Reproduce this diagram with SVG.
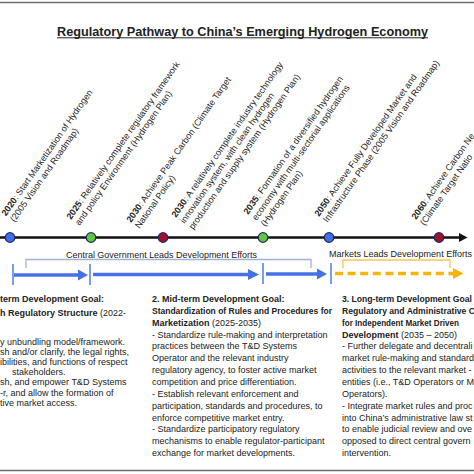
<svg xmlns="http://www.w3.org/2000/svg" width="474" height="474" viewBox="0 0 474 474">
<defs>
<style>
text{font-family:"Liberation Sans",Arial,sans-serif;fill:#222}
.lbl{font-size:9px}
.body{font-size:9px}
.b{font-weight:bold}
.border{stroke:#6b6b6b;stroke-width:1.5}
.dot{stroke:#1f2a66;stroke-width:1.2}
.blue{fill:#3f6fe6}
.green{fill:#62c93a}
.red{fill:#a0102c}
.shaft{stroke:#4472e6;stroke-width:3.5}
.head{fill:#4472e6}
.tick{stroke:#4472e6;stroke-width:1.4}
.brk{fill:none;stroke:#9fb2de;stroke-width:1.3}
.ybrk{fill:none;stroke:#f3c94a;stroke-width:1.3}
.ydash{stroke:#f5b50a;stroke-width:3.5;stroke-dasharray:8 4.6}
</style>
</defs>
<rect width="474" height="474" fill="#fff"/>
<line class="border" x1="0" y1="2.5" x2="474" y2="2.5"/>
<line class="border" x1="0" y1="470.5" x2="474" y2="470.5"/>

<g id="title">
<text x="57" y="35.5" class="b" font-size="13" textLength="371" lengthAdjust="spacingAndGlyphs">Regulatory Pathway to China’s Emerging Hydrogen Economy</text>
<line x1="57" y1="37.8" x2="428" y2="37.8" stroke="#222" stroke-width="1"/>
</g>

<g id="connectors">
<line x1="0" y1="237.5" x2="460" y2="237.5" stroke="#111" stroke-width="2.5"/>
<polygon points="459,233 467.5,237.5 459,242" fill="#111"/>
<path class="brk" d="M26,268 V259.5 H311 V268"/>
<path class="ybrk" d="M343,268 V260 H450 V268"/>
<line class="tick" x1="13" y1="264" x2="13" y2="285"/>
<line class="tick" x1="90" y1="264" x2="90" y2="285"/>
<line class="tick" x1="263" y1="263" x2="263" y2="284"/>
<line class="tick" x1="331" y1="263" x2="331" y2="284"/>
<line class="shaft" x1="14" y1="275" x2="80" y2="275"/>
<polygon class="head" points="78,269.5 88,275 78,280.5"/>
<line class="shaft" x1="93" y1="274.5" x2="250" y2="274.5"/>
<polygon class="head" points="248,269 259,274.5 248,280"/>
<line class="shaft" x1="266" y1="274" x2="319" y2="274"/>
<polygon class="head" points="317,268.5 327,274 317,279.5"/>
<line class="ydash" x1="335" y1="273.5" x2="453" y2="273.5"/>
<polygon points="453,268 463.5,273.5 453,279" fill="#f5b50a"/>
</g>

<g id="m2020"><circle class="dot blue" cx="10" cy="237.5" r="4.8"/>
<text class="lbl" transform="translate(6,216.5) rotate(-55)"><tspan x="0" y="0"><tspan class="b">2020</tspan>: Start Marketization of Hydrogen</tspan><tspan x="0" y="10.5">(2005 Vision and Roadmap)</tspan></text></g>
<g id="m2025"><circle class="dot green" cx="91" cy="237.5" r="4.8"/>
<text class="lbl" transform="translate(71,220) rotate(-55)"><tspan x="0" y="0"><tspan class="b">2025</tspan>: Relatively complete regulatory framework</tspan><tspan x="0" y="10.5">and policy Environment (Hydrogen Plan)</tspan></text></g>
<g id="m2030a"><circle class="dot red" cx="163" cy="237.5" r="4.8"/>
<text class="lbl" transform="translate(131,223) rotate(-55)"><tspan x="0" y="0"><tspan class="b">2030</tspan>: Achieve Peak Carbon (Climate Target</tspan><tspan x="0" y="10.5">National Policy)</tspan></text></g>
<g id="m2030b">
<text class="lbl" transform="translate(176,218) rotate(-55)"><tspan x="0" y="0"><tspan class="b">2030</tspan>: A relatively complete industry technology</tspan><tspan x="0" y="10.5">innovation system, with clean hydrogen</tspan><tspan x="0" y="21">production and supply system (Hydrogen Plan)</tspan></text></g>
<g id="m2035"><circle class="dot green" cx="263" cy="237.5" r="4.8"/>
<text class="lbl" transform="translate(248,215) rotate(-55)"><tspan x="0" y="0"><tspan class="b">2035</tspan>: Formation of a diversified hydrogen</tspan><tspan x="0" y="10.5">economy with multi-sectorial applications</tspan><tspan x="0" y="21">(Hydrogen Plan)</tspan></text></g>
<g id="m2050"><circle class="dot blue" cx="329" cy="237.5" r="4.8"/>
<text class="lbl" transform="translate(319,217) rotate(-55)"><tspan x="0" y="0"><tspan class="b">2050</tspan>: Achieve Fully Developed Market and</tspan><tspan x="0" y="10.5">Infrastructure Phase (2005 Vision and Roadmap)</tspan></text></g>
<g id="m2060"><circle class="dot red" cx="439" cy="237.5" r="4.8"/>
<text class="lbl" transform="translate(416,220) rotate(-55)"><tspan x="0" y="0"><tspan class="b">2060</tspan>: Achieve Carbon Ne</tspan><tspan x="0" y="10.5">(Climate Target Natio</tspan></text></g>

<g id="central"><text class="body" x="66" y="257.5" textLength="191" lengthAdjust="spacingAndGlyphs">Central Government Leads Development Efforts</text></g>
<g id="markets"><text class="body" x="329" y="257" textLength="143" lengthAdjust="spacingAndGlyphs">Markets Leads Development Efforts</text></g>

<g id="goal1"><text class="body">
<tspan x="0" y="302" class="b">term Development Goal:</tspan>
<tspan x="0" y="316"><tspan class="b">h Regulatory Structure</tspan> (2022-</tspan>
<tspan x="0" y="344.5">y unbundling model/framework.</tspan>
<tspan x="0" y="354.7">sh and/or clarify, the legal rights,</tspan>
<tspan x="0" y="364.9">ibilities, and functions of respect</tspan>
<tspan x="12" y="375.1">stakeholders.</tspan>
<tspan x="0" y="385.3">sh, and empower T&amp;D Systems</tspan>
<tspan x="0" y="395.5">-r, and allow the formation of</tspan>
<tspan x="0" y="405.7">tive market access.</tspan>
</text></g>

<g id="goal2"><text class="body">
<tspan x="152" y="302" class="b">2. Mid-term Development Goal:</tspan>
<tspan x="152" y="313.85" class="b" textLength="180" lengthAdjust="spacingAndGlyphs">Standardization of Rules and Procedures for</tspan>
<tspan x="152" y="325.7"><tspan class="b">Marketization</tspan> (2025-2035)</tspan>
<tspan x="152" y="337.55">- Standardize rule-making and interpretation</tspan>
<tspan x="152" y="349.4">practices between the T&amp;D Systems</tspan>
<tspan x="152" y="361.25">Operator and the relevant industry</tspan>
<tspan x="152" y="373.1">regulatory agency, to foster active market</tspan>
<tspan x="152" y="384.95">competition and price differentiation.</tspan>
<tspan x="152" y="396.8">- Establish relevant enforcement and</tspan>
<tspan x="152" y="408.65">participation, standards and procedures, to</tspan>
<tspan x="152" y="420.5">enforce competitive market entry.</tspan>
<tspan x="152" y="432.35">- Standardize participatory regulatory</tspan>
<tspan x="152" y="444.2">mechanisms to enable regulator-participant</tspan>
<tspan x="152" y="456.05">exchange for market developments.</tspan>
</text></g>

<g id="goal3"><text class="body">
<tspan x="342" y="302" class="b" textLength="130" lengthAdjust="spacingAndGlyphs">3. Long-term Development Goal</tspan>
<tspan x="342" y="313.85" class="b" textLength="133" lengthAdjust="spacingAndGlyphs">Regulatory and Administrative C</tspan>
<tspan x="342" y="325.7" class="b" textLength="117" lengthAdjust="spacingAndGlyphs">for Independent Market Driven</tspan>
<tspan x="342" y="337.55"><tspan class="b">Development</tspan> (2035 – 2050)</tspan>
<tspan x="342" y="349.4">- Further delegate and decentrali</tspan>
<tspan x="342" y="361.25">market rule-making and standard</tspan>
<tspan x="342" y="373.1">activities to the relevant market -</tspan>
<tspan x="342" y="384.95">entities (i.e., T&amp;D Operators or M</tspan>
<tspan x="342" y="396.8">Operators).</tspan>
<tspan x="342" y="408.65">- Integrate market rules and proc</tspan>
<tspan x="342" y="420.5">into China’s administrative law st</tspan>
<tspan x="342" y="432.35">to enable judicial review and ove</tspan>
<tspan x="342" y="444.2">opposed to direct central govern</tspan>
<tspan x="342" y="456.05">intervention.</tspan>
</text></g>
</svg>
